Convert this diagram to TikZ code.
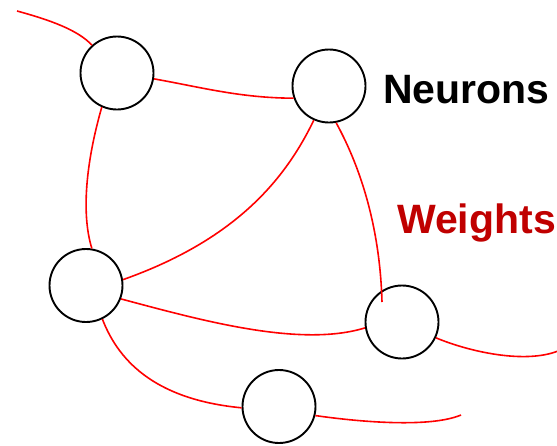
\documentclass[tikz,border=0pt]{standalone}
\usepackage{fontspec}
\setmainfont{Liberation Sans}
\definecolor{wred}{RGB}{192,0,0}
\begin{document}
\begin{tikzpicture}[x=1pt,y=-1pt,
  neuron/.style={circle,draw=black,line width=1.9pt,fill=white,minimum size=73pt,inner sep=0pt},
  weight/.style={draw=red,line width=1.6pt},
  lbl/.style={anchor=base west,inner sep=0pt,font=\fontsize{41}{41}\selectfont\bfseries}]
\useasboundingbox (0,0) rectangle (557,445);
\node[neuron] (A) at (117,73) {};
\node[neuron] (B) at (329,86) {};
\node[neuron] (C) at (86,285.5) {};
\node[neuron] (D) at (402,322) {};
\node[neuron] (E) at (279,406.5) {};
\coordinate (s1) at (17,11);
\coordinate (e8) at (461,415);
\coordinate (e9) at (558,351);
\coordinate (d5) at (382,302);
\draw[weight] (s1) .. controls (50,20) and (78,30) .. (A.132);
\draw[weight] (A.-9) .. controls (200,87) and (240,98) .. (B.199);
\draw[weight] (A.-114) .. controls (88,155) and (80,210) .. (C.81);
\draw[weight] (B.-114) .. controls (285,180) and (235,240) .. (C.9.5);
\draw[weight] (B.-79) .. controls (362,170) and (380,230) .. (d5);
\draw[weight] (C.-21) .. controls (200,320) and (300,348) .. (D.189);
\draw[weight] (C.-64) .. controls (120,365) and (160,400) .. (E.182);
\draw[weight] (E.-14) .. controls (360,422) and (430,428) .. (e8);
\draw[weight] (D.-25) .. controls (470,352) and (525,364) .. (e9);
\node[lbl,text=black] (neurons) at (383,103) {Neurons};
\node[lbl,text=wred] (weights) at (397,233) {Weights};
\end{tikzpicture}
\end{document}
